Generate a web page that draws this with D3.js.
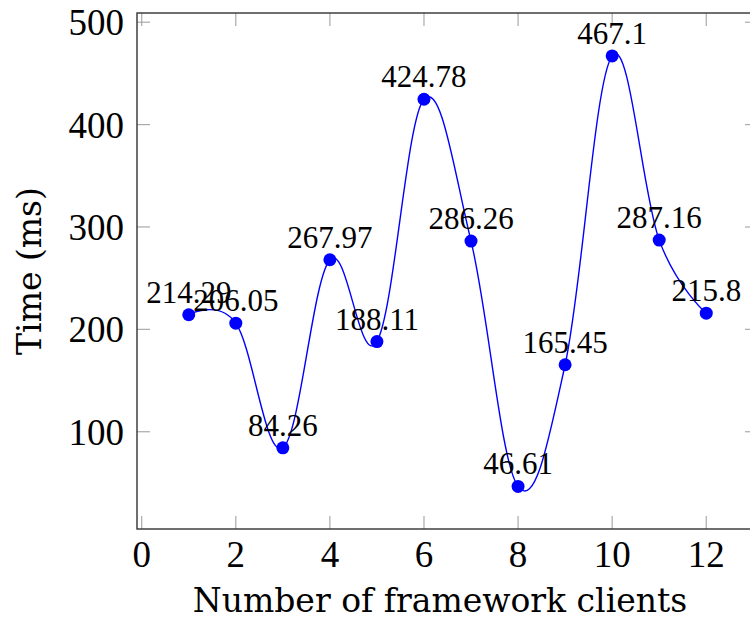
<!DOCTYPE html>
<html>
<head>
<meta charset="utf-8">
<script src="https://cdn.jsdelivr.net/npm/d3@7"></script>
<style>
  body { margin: 0; background: #fff; }
  .tick-label { font-family: "Liberation Serif", serif; font-size: 37px; fill: #000; }
  .node-label { font-family: "Liberation Serif", serif; font-size: 31px; fill: #000; }
  .axis-title { font-family: "DejaVu Serif", serif; font-size: 33px; fill: #000; }
</style>
</head>
<body>
<script>
var clients = [1, 2, 3, 4, 5, 6, 7, 8, 9, 10, 11, 12];
var times = [214.29, 206.05, 84.26, 267.97, 188.11, 424.78, 286.26, 46.61, 165.45, 467.1, 287.16, 215.8];
var xTicks = [0, 2, 4, 6, 8, 10, 12];
var yTicks = [100, 200, 300, 400, 500];

var width = 750, height = 621;
var box = {left: 137, top: 13, right: 758, bottom: 529};

var data = clients.map(function(c, i) { return {x: c, y: times[i]}; });

var x = d3.scaleLinear().domain([-0.1, 13.1]).range([box.left, box.right]);
var y = d3.scaleLinear().domain([5, 509]).range([box.bottom, box.top]);

var svg = d3.select("body")
    .append("svg")
    .attr("width", width)
    .attr("height", height);

var tickLen = 13;

// ticks, inward on all four sides
var ticks = svg.append("g").attr("class", "ticks")
    .style("stroke", "#aaa")
    .style("stroke-width", 1.2);

xTicks.forEach(function(t) {
    ticks.append("line")
        .attr("x1", x(t)).attr("x2", x(t))
        .attr("y1", box.bottom).attr("y2", box.bottom - tickLen);
    ticks.append("line")
        .attr("x1", x(t)).attr("x2", x(t))
        .attr("y1", box.top).attr("y2", box.top + tickLen);
});
yTicks.forEach(function(t) {
    ticks.append("line")
        .attr("x1", box.left).attr("x2", box.left + tickLen)
        .attr("y1", y(t)).attr("y2", y(t));
    ticks.append("line")
        .attr("x1", box.right).attr("x2", box.right - tickLen)
        .attr("y1", y(t)).attr("y2", y(t));
});

// axis frame
svg.append("rect")
    .attr("x", box.left)
    .attr("y", box.top)
    .attr("width", box.right - box.left)
    .attr("height", box.bottom - box.top)
    .style("fill", "none")
    .style("stroke", "#333")
    .style("stroke-width", 1.4);

// tick labels
svg.append("g").selectAll("text")
    .data(xTicks)
    .enter().append("text")
    .attr("class", "tick-label")
    .attr("x", function(d) { return x(d); })
    .attr("y", 567)
    .attr("text-anchor", "middle")
    .text(function(d) { return d; });

svg.append("g").selectAll("text")
    .data(yTicks)
    .enter().append("text")
    .attr("class", "tick-label")
    .attr("x", 124)
    .attr("y", function(d) { return y(d) + 13; })
    .attr("text-anchor", "end")
    .text(function(d) { return d; });

// smooth line
var line = d3.line()
    .x(function(d) { return x(d.x); })
    .y(function(d) { return y(d.y); })
    .curve(d3.curveCardinal.tension(-0.1));

svg.append("path")
    .datum(data)
    .attr("d", line)
    .style("fill", "none")
    .style("stroke", "#0000ff")
    .style("stroke-width", 1.4);

svg.append("g").selectAll("circle")
    .data(data)
    .enter().append("circle")
    .attr("cx", function(d) { return x(d.x); })
    .attr("cy", function(d) { return y(d.y); })
    .attr("r", 6.5)
    .style("fill", "#0000ff");

// nodes near coords
svg.append("g").selectAll("text")
    .data(data)
    .enter().append("text")
    .attr("class", "node-label")
    .attr("x", function(d) { return x(d.x); })
    .attr("y", function(d) { return y(d.y) - 12; })
    .attr("text-anchor", "middle")
    .text(function(d) { return d.y; });

// axis titles
svg.append("text")
    .attr("class", "axis-title")
    .attr("x", 440)
    .attr("y", 612)
    .attr("text-anchor", "middle")
    .text("Number of framework clients");

svg.append("text")
    .attr("class", "axis-title")
    .attr("transform", "translate(41,271) rotate(-90)")
    .attr("text-anchor", "middle")
    .text("Time (ms)");
</script>
</body>
</html>
